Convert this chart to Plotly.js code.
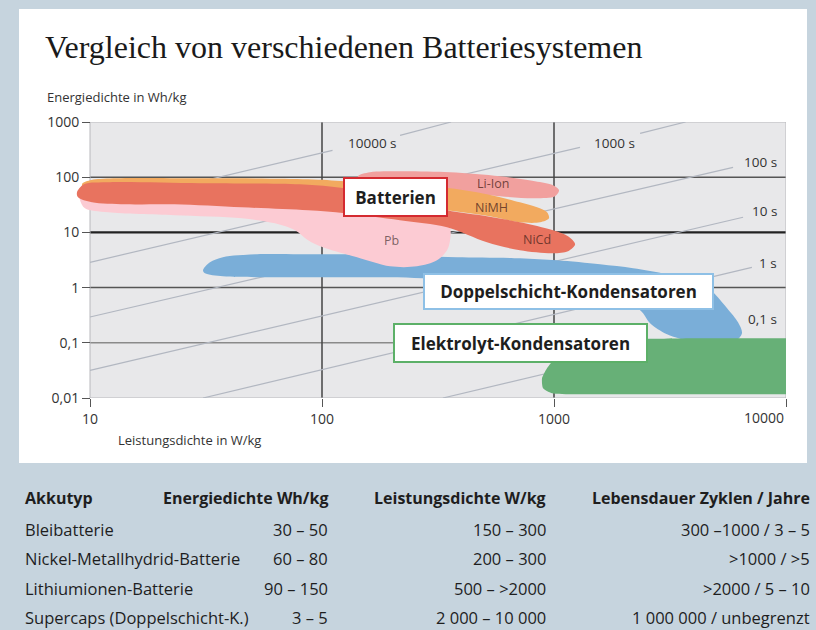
<!DOCTYPE html>
<html><head><meta charset="utf-8">
<script src="https://cdn.plot.ly/plotly-3.0.1.min.js"></script>
<style>html,body{margin:0;padding:0;background:#c6d4de;}#chart{width:816px;height:630px;}</style>
</head><body><div id="chart"></div>
<script>
// ---------- data ----------
const xTickVals = [10, 100, 1000, 10000];
const xTickText = ['10', '100', '1000', ''];   // last label drawn right-aligned below
const xLastTick = '10000';
const yTickVals = [0.01, 0.1, 1, 10, 100, 1000];
const yTickText = ['0,01', '0,1', '1', '10', '100', '1000'];

// constant discharge-time guide lines (W/kg, Wh/kg); null = gap for label
const timeLabels = ['10000 s', '1000 s', '100 s', '10 s', '1 s', '0,1 s'];
const t10000P = [10, 111, null, 217, 360];
const t10000E = [27.8, 307, null, 574, 1000];
const t1000P = [10, 1294, null, 2350, 3690];
const t1000E = [2.87, 348, null, 624, 1000];
const t100P = [10, 5915];
const t100E = [0.293, 151];
const t10P = [10, 6530];
const t10E = [0.0317, 18.8];
const t1P = [30.7, 7130];
const t1E = [0.01, 2.33];
const t01P = [332, 6000];
const t01E = [0.01, 0.18];

// region outlines (Leistungsdichte W/kg, Energiedichte Wh/kg)
const liIonP = [142.9, 161, 216.8, 356.4, 585, 828, 990, 1051, 1010, 828, 585, 356.4, 216.8, 145.8, 142.9];
const liIonE = [103.8, 122.7, 128, 122.7, 103.8, 84.3, 71.3, 57.9, 45.1, 41.5, 45.1, 55.5, 68.4, 80.9, 103.8];
const nimhP = [9.24, 10, 29.8, 87.1, 125.6, 216.8, 356.4, 514, 713, 845, 933, 951, 871, 713, 529, 345.9, 125.6, 29.8, 10, 9.24];
const nimhE = [74.3, 87.9, 95.5, 91.6, 84.3, 71.3, 62.9, 49.0, 35.1, 28.5, 23.1, 18.0, 15.2, 15.2, 19.6, 25.1, 38.2, 47.0, 47.0, 74.3];
const pbP = [9.06, 10, 80.4, 216.8, 322.7, 356.4, 356.4, 345.9, 313, 256.6, 196.5, 141.6, 100.9, 87.1, 76.6, 62.7, 45.2, 23.2, 11.96, 9.51, 9.06, 9.06];
const pbE = [53.3, 62.9, 47.0, 31.0, 20.4, 12.4, 7.19, 4.74, 3.12, 2.43, 2.43, 3.54, 5.37, 7.19, 10.9, 14.6, 18.0, 20.4, 23.1, 27.3, 38.2, 53.3];
const nicdP = [8.79, 9.42, 12.2, 29.8, 80.4, 125.6, 216.8, 345.9, 514, 713, 990, 1149, 1233, 1149, 990, 713, 514, 345.9, 216.8, 125.6, 87.1, 45.2, 23.2, 14.2, 10.2, 8.88, 8.79];
const nicdE = [53.3, 74.3, 80.9, 77.5, 74.3, 62.9, 41.5, 25.1, 19.6, 15.2, 10.9, 8.49, 6.09, 4.55, 4.18, 4.74, 6.62, 12.4, 16.6, 22.2, 25.1, 28.5, 32.3, 32.3, 35.1, 43.2, 53.3];
const dlP = [30.7, 32.9, 37.4, 52.5, 80.4, 132, 264.2, 382, 713, 1030, 1579, 2193, 3070, 4256, 4842, 5573, 6210, 6460, 6030, 4940, 4055, 3070, 2595, 2350, 1579, 585, 272, 196.5, 100.9, 52.5, 37.4, 31.3, 30.7];
const dlE = [2.06, 2.87, 3.54, 4.01, 4.01, 4.01, 3.69, 3.54, 3.40, 3.12, 2.64, 2.24, 1.74, 1.20, 0.822, 0.422, 0.235, 0.149, 0.106, 0.094, 0.102, 0.143, 0.226, 0.388, 0.726, 1.10, 1.47, 1.54, 1.54, 1.54, 1.60, 1.82, 2.06];
const elkoP = [1172, 1579, 2595, 4256, 7000, 10000, 10400, 10400, 10000, 7000, 4256, 1579, 980, 897, 888, 933, 1020, 1172];
const elkoE = [0.090, 0.111, 0.118, 0.121, 0.121, 0.121, 0.121, 0.0117, 0.0117, 0.0117, 0.0117, 0.0117, 0.0122, 0.0150, 0.0227, 0.0345, 0.0546, 0.090];

// table
const tableHeader = ['Akkutyp', 'Energiedichte Wh/kg', 'Leistungsdichte W/kg', 'Lebensdauer Zyklen / Jahre'];
const akkutyp = ['Bleibatterie', 'Nickel-Metallhydrid-Batterie', 'Lithiumionen-Batterie', 'Supercaps (Doppelschicht-K.)'];
const energiedichte = ['30 – 50', '60 – 80', '90 – 150', '3 – 5'];
const leistungsdichte = ['150 – 300', '200 – 300', '500 – &gt;2000', '2 000 – 10 000'];
const lebensdauer = ['300 –1000 / 3 – 5', '&gt;1000 / &gt;5', '&gt;2000 / 5 – 10', '1 000 000 / unbegrenzt'];

// ---------- layout helpers ----------
const L = 74, R = 786, T = 122, B = 398;
const PX = x => (x - L) / (R - L);
const PY = y => (B - y) / (B - T);
const SANS = '"Open Sans", "Noto Sans", sans-serif';
const lineCol = '#b2b7c1';

function guide(p, e) {
  return {x: p, y: e, type: 'scatter', mode: 'lines', line: {color: lineCol, width: 1.2},
          hoverinfo: 'skip', showlegend: false, connectgaps: false};
}
function region(p, e, col, sm) {
  return {x: p, y: e, type: 'scatter', mode: 'lines', fill: 'toself', fillcolor: col,
          line: {width: 0, shape: 'spline', smoothing: sm || 0.9, color: col}, hoverinfo: 'skip', showlegend: false};
}

const traces = [
  guide(t10000P, t10000E), guide(t1000P, t1000E), guide(t100P, t100E),
  guide(t10P, t10E), guide(t1P, t1E), guide(t01P, t01E),
  region(dlP, dlE, '#7aaed8'),
  region(elkoP, elkoE, '#67b077', 0.6),
  region(liIonP, liIonE, '#f1a09e'),
  region(nimhP, nimhE, '#f2aa5f'),
  region(pbP, pbE, '#fccbd3'),
  region(nicdP, nicdE, '#e8735f')
];

const shapes = [
  {type: 'rect', xref: 'paper', yref: 'paper', x0: PX(19), x1: PX(807), y0: PY(463), y1: PY(9),
   fillcolor: '#ffffff', line: {width: 0}, layer: 'below'},
  {type: 'rect', xref: 'x', yref: 'y', x0: 10, x1: 10000, y0: 0.01, y1: 1000,
   fillcolor: '#e8e8ea', line: {width: 0}, layer: 'below'},
  {type: 'line', xref: 'x', yref: 'y', x0: 10, x1: 10000, y0: 100, y1: 100, line: {color: '#555', width: 1.5}, layer: 'below'},
  {type: 'line', xref: 'x', yref: 'y', x0: 10, x1: 10000, y0: 10, y1: 10, line: {color: '#222', width: 2.2}, layer: 'below'},
  {type: 'line', xref: 'x', yref: 'y', x0: 10, x1: 10000, y0: 1, y1: 1, line: {color: '#555', width: 1.5}, layer: 'below'},
  {type: 'line', xref: 'x', yref: 'y', x0: 10, x1: 10000, y0: 0.1, y1: 0.1, line: {color: '#8a8a8a', width: 1.5}, layer: 'below'},
  {type: 'line', xref: 'x', yref: 'y', x0: 100, x1: 100, y0: 0.01, y1: 1000, line: {color: '#444', width: 1.5}, layer: 'below'},
  {type: 'line', xref: 'x', yref: 'y', x0: 1000, x1: 1000, y0: 0.01, y1: 1000, line: {color: '#444', width: 1.5}, layer: 'below'},
  {type: 'rect', xref: 'x', yref: 'y', x0: 10, x1: 10000, y0: 0.01, y1: 1000,
   fillcolor: 'rgba(0,0,0,0)', line: {color: '#b8b8bc', width: 1}, layer: 'below'}
];

const ann = [];
function A(text, x, y, opts) {
  ann.push(Object.assign({text: text, xref: 'paper', yref: 'paper', x: PX(x), y: PY(y),
    showarrow: false, xanchor: 'center', yanchor: 'middle',
    font: {family: SANS, size: 13, color: '#333'}}, opts || {}));
}
// last x tick label, right-aligned on its tick as in the original
ann.push({text: xLastTick, xref: 'x', yref: 'paper', x: Math.log10(xTickVals[3]), y: PY(406),
  xanchor: 'right', yanchor: 'top', showarrow: false, font: {family: SANS, size: 14, color: '#333'}});
// axis titles
A('Energiedichte in Wh/kg', 45, 97, {xanchor: 'left', font: {family: SANS, size: 13, color: '#333'}});
A('Leistungsdichte in W/kg', 116, 440, {xanchor: 'left', font: {family: SANS, size: 13, color: '#333'}});
// time labels
A(timeLabels[0], 372, 143, {font: {family: SANS, size: 13.5, color: '#333'}});
A(timeLabels[1], 614, 143, {font: {family: SANS, size: 13.5, color: '#333'}});
A(timeLabels[2], 779, 162, {xanchor: 'right', font: {family: SANS, size: 13.5, color: '#333'}});
A(timeLabels[3], 779, 211, {xanchor: 'right', font: {family: SANS, size: 13.5, color: '#333'}});
A(timeLabels[4], 779, 263, {xanchor: 'right', font: {family: SANS, size: 13.5, color: '#333'}});
A(timeLabels[5], 779, 319, {xanchor: 'right', font: {family: SANS, size: 13.5, color: '#333'}});
// region labels
const regCol = 'rgba(80,40,30,0.8)';
A('Li-Ion', 493, 183, {font: {family: SANS, size: 12.5, color: regCol}});
A('NiMH', 491, 207, {font: {family: SANS, size: 12.5, color: regCol}});
A('NiCd', 537, 239, {font: {family: SANS, size: 12.5, color: regCol}});
A('Pb', 391, 240, {font: {family: SANS, size: 12.5, color: 'rgba(90,70,70,0.8)'}});
// boxes
A('<b>Batterien</b>', 395, 196.5, {width: 101, height: 36, borderpad: 0, borderwidth: 2, bordercolor: '#d42a30',
   bgcolor: '#ffffff', font: {family: SANS, size: 17, color: '#1e1e1e'}});
A('<b>Doppelschicht-Kondensatoren</b>', 568, 291, {width: 287, height: 33, borderpad: 0, borderwidth: 2, bordercolor: '#8ec0e6',
   bgcolor: '#ffffff', font: {family: SANS, size: 17, color: '#1e1e1e'}});
A('<b>Elektrolyt-Kondensatoren</b>', 520, 342.5, {width: 251, height: 36, borderpad: 0, borderwidth: 2, bordercolor: '#5cb068',
   bgcolor: '#ffffff', font: {family: SANS, size: 17, color: '#1e1e1e'}});
// table
const tFont = {family: SANS, size: 16.5, color: '#1e1e1e'};
const colX = [23, 330, 548, 812];
const headY = 498, rowY = [529, 558, 588, 617];
tableHeader.forEach((h, i) => A('<b>' + h + '</b>', colX[i], headY, {xanchor: i === 0 ? 'left' : 'right', font: {family: SANS, size: 16, color: '#1e1e1e'}}));
akkutyp.forEach((v, r) => A(v, colX[0], rowY[r], {xanchor: 'left', font: tFont}));
energiedichte.forEach((v, r) => A(v, colX[1], rowY[r], {xanchor: 'right', font: tFont}));
leistungsdichte.forEach((v, r) => A(v, colX[2], rowY[r], {xanchor: 'right', font: tFont}));
lebensdauer.forEach((v, r) => A(v, colX[3], rowY[r], {xanchor: 'right', font: tFont}));

const layout = {
  width: 816, height: 630,
  paper_bgcolor: '#c6d4de', plot_bgcolor: 'rgba(0,0,0,0)',
  margin: {l: L, r: 816 - R, t: T, b: 630 - B, pad: 0},
  showlegend: false,
  title: {text: 'Vergleich von verschiedenen Batteriesystemen', xref: 'container', yref: 'container',
          x: 45 / 816, xanchor: 'left', y: 1 - 47 / 630, yanchor: 'middle',
          font: {family: '"Liberation Serif", "DejaVu Serif", serif', size: 32, color: '#1a1a1a'}},
  xaxis: {type: 'log', range: [1 - 16 / 232, 4], showgrid: false, zeroline: false, showline: false,
          ticks: 'outside', ticklen: 8, tickcolor: '#555', tickwidth: 1,
          tickvals: xTickVals, ticktext: xTickText, tickfont: {family: SANS, size: 14, color: '#333'}, fixedrange: true},
  yaxis: {type: 'log', range: [-2, 3], anchor: 'free', position: 16 / 712, showgrid: false, zeroline: false, showline: false,
          ticks: 'outside', ticklen: 8, tickcolor: '#555', tickwidth: 1,
          tickvals: yTickVals, ticktext: yTickText, tickfont: {family: SANS, size: 14, color: '#333'}, fixedrange: true},
  shapes: shapes,
  annotations: ann
};
Plotly.newPlot('chart', traces, layout, {displayModeBar: false, staticPlot: true});
</script></body></html>
